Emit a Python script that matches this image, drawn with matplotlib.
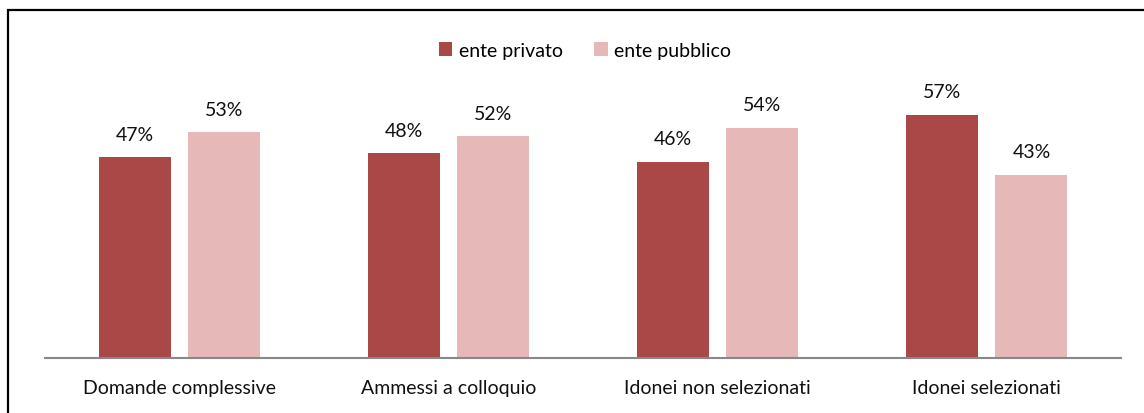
import matplotlib.pyplot as plt
from matplotlib import patches
import numpy as np

categories = ["Domande complessive", "Ammessi a colloquio", "Idonei non selezionati", "Idonei selezionati"]
privato = [47, 48, 46, 57]
pubblico = [53, 52, 54, 43]
series_names = ["ente privato", "ente pubblico"]

RED = "#A94846"
PINK = "#E6B8B7"

plt.rcParams['font.family'] = ['Lato', 'DejaVu Sans']

W, H = 1144, 414
fig = plt.figure(figsize=(W / 100, H / 100), dpi=100)
ax = fig.add_axes([45 / W, 55 / H, 1076 / W, 256 / H])

x = np.arange(len(categories))
bw = 0.268
off = 0.167
b1 = ax.bar(x - off, privato, bw, color=RED, label=series_names[0])
b2 = ax.bar(x + off, pubblico, bw, color=PINK, label=series_names[1])

for bars, vals in ((b1, privato), (b2, pubblico)):
    for rect, v in zip(bars, vals):
        ax.annotate(f"{v}%", (rect.get_x() + rect.get_width() / 2, v),
                    xytext=(0, 12.5), textcoords="offset points",
                    ha="center", va="baseline", fontsize=14, color="#111111")

ax.set_xlim(-0.5, len(categories) - 0.5)
ax.set_ylim(0, 60)
ax.set_xticks(x)
ax.set_xticklabels(categories, fontsize=14, color="#111111")
ax.tick_params(axis="x", length=0, pad=15)
ax.set_yticks([])
for s in ("top", "left", "right"):
    ax.spines[s].set_visible(False)
ax.spines["bottom"].set_color("#888888")
ax.spines["bottom"].set_linewidth(1.5)

fig.legend(handles=[b1, b2], loc="center", bbox_to_anchor=(585 / W, 1 - 51 / H),
           ncol=2, frameon=False, fontsize=14, handlelength=0.7, handleheight=0.7,
           handletextpad=0.35, columnspacing=1.6)

# outer frame
fig.patches.append(patches.Rectangle((8 / W, -0.2), 1.2, 1.2 - 11 / H,
                                     transform=fig.transFigure, fill=False,
                                     edgecolor="black", linewidth=1.6))

fig.savefig("out.png", dpi=100)
